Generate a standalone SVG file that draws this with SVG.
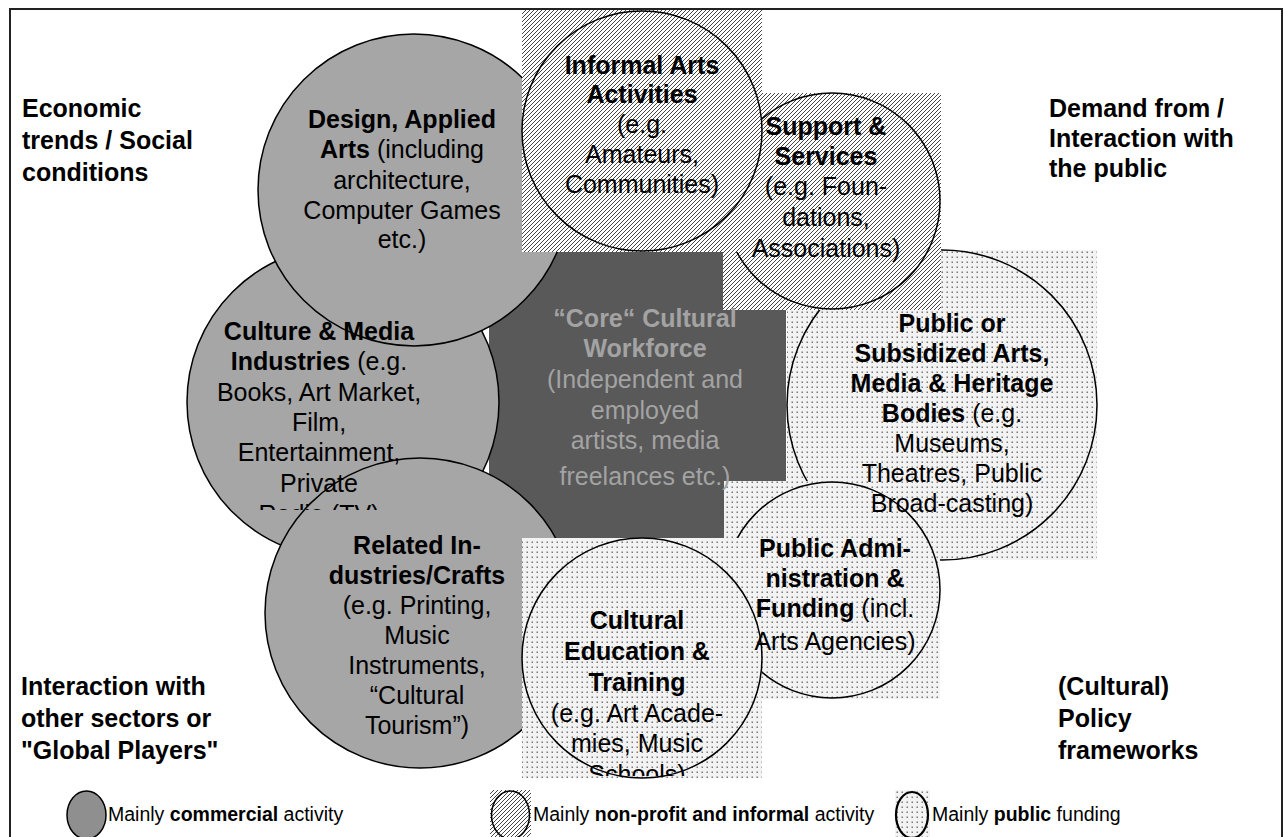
<svg xmlns="http://www.w3.org/2000/svg" width="1284" height="837" viewBox="0 0 1284 837">
<defs>
<pattern id="hatch" width="4" height="4" patternUnits="userSpaceOnUse">
<rect width="4" height="4" fill="#ffffff"/>
<path d="M-1,1 l2,-2 M0,4 l4,-4 M3,5 l2,-2" stroke="#3c3c3c" stroke-width="0.95"/>
</pattern>
<pattern id="dots" width="5" height="5" patternUnits="userSpaceOnUse">
<rect width="5" height="5" fill="#f3f3f3"/>
<rect x="1.5" y="1.5" width="1.5" height="1.5" fill="#7a7a7a"/>
</pattern>
<clipPath id="clipCulture"><rect x="150" y="0" width="400" height="510"/></clipPath>
<clipPath id="clipEdu"><rect x="500" y="0" width="300" height="776"/></clipPath>
<style>
.ring{stroke:#000;stroke-width:1.5}
.com{fill:#a6a6a6}
.t{font-family:"Liberation Sans",Arial,sans-serif;font-size:25px;fill:#000;text-anchor:middle}
.l{font-family:"Liberation Sans",Arial,sans-serif;font-size:25px;font-weight:bold;fill:#000}
.b{font-weight:bold}
.core{fill:#a3a3a3}
.lg{font-family:"Liberation Sans",Arial,sans-serif;font-size:19.5px;fill:#000}
</style>
</defs>
<rect x="10" y="9" width="1272" height="840" fill="#fff" stroke="#222" stroke-width="2"/>

<g id="core-shape"><rect x="489" y="252" width="297" height="286" fill="#595959"/></g>
<g id="culture-shape"><circle class="ring com" cx="343" cy="402" r="156"/></g>
<g id="design-shape"><circle class="ring com" cx="414" cy="190" r="156"/></g>
<g id="related-shape"><circle class="ring com" cx="420" cy="613" r="155"/></g>
<g id="public-shape"><rect x="787" y="250" width="310" height="310" fill="url(#dots)"/><circle class="ring" cx="942" cy="405" r="155" fill="none"/></g>
<g id="support-shape"><rect x="723" y="93" width="218" height="217" fill="url(#hatch)"/><circle class="ring" cx="832" cy="201" r="108" fill="none"/></g>
<g id="informal-shape"><rect x="522" y="10" width="240" height="242" fill="url(#hatch)"/><circle class="ring" cx="642" cy="131" r="120" fill="none"/></g>
<g id="admin-shape"><rect x="724" y="481" width="216" height="218" fill="url(#dots)"/><circle class="ring" cx="832" cy="590" r="108" fill="none"/></g>
<g id="education-shape"><rect x="522" y="538" width="240" height="240" fill="url(#dots)"/><circle class="ring" cx="642" cy="658" r="120" fill="none"/></g>

<g id="connectors"></g>

<g id="design">
<text class="t" x="402" y="128"><tspan class="b">Design, Applied</tspan></text>
<text class="t" x="402" y="158"><tspan class="b">Arts</tspan> (including</text>
<text class="t" x="402" y="189">architecture,</text>
<text class="t" x="402" y="219">Computer Games</text>
<text class="t" x="402" y="248">etc.)</text>
</g>
<g id="culture">
<text class="t" x="319" y="340"><tspan class="b">Culture &amp; Media</tspan></text>
<text class="t" x="319" y="370"><tspan class="b">Industries</tspan> (e.g.</text>
<text class="t" x="319" y="401">Books, Art Market,</text>
<text class="t" x="319" y="431">Film,</text>
<text class="t" x="319" y="461">Entertainment,</text>
<text class="t" x="319" y="492">Private</text>
<text class="t" x="319" y="523" clip-path="url(#clipCulture)">Radio (TV)</text>
</g>
<g id="related">
<text class="t b" x="417" y="554">Related In-</text>
<text class="t b" x="417" y="584">dustries/Crafts</text>
<text class="t" x="417" y="614">(e.g. Printing,</text>
<text class="t" x="417" y="644">Music</text>
<text class="t" x="417" y="674">Instruments,</text>
<text class="t" x="417" y="704">“Cultural</text>
<text class="t" x="417" y="734">Tourism”)</text>
</g>
<g id="informal">
<text class="t b" x="642" y="74">Informal Arts</text>
<text class="t b" x="642" y="103">Activities</text>
<text class="t" x="642" y="133">(e.g.</text>
<text class="t" x="642" y="163">Amateurs,</text>
<text class="t" x="642" y="193">Communities)</text>
</g>
<g id="support">
<text class="t b" x="826" y="135">Support &amp;</text>
<text class="t b" x="826" y="165">Services</text>
<text class="t" x="826" y="195">(e.g. Foun-</text>
<text class="t" x="826" y="226">dations,</text>
<text class="t" x="826" y="257">Associations)</text>
</g>
<g id="core">
<text class="t b core" x="645" y="327">“Core“ Cultural</text>
<text class="t b core" x="645" y="357">Workforce</text>
<text class="t core" x="645" y="388">(Independent and</text>
<text class="t core" x="645" y="419">employed</text>
<text class="t core" x="645" y="449">artists, media</text>
<text class="t core" x="645" y="485">freelances etc.)</text>
</g>
<g id="public">
<text class="t b" x="952" y="332">Public or</text>
<text class="t b" x="952" y="362">Subsidized Arts,</text>
<text class="t b" x="952" y="392">Media &amp; Heritage</text>
<text class="t" x="952" y="422"><tspan class="b">Bodies</tspan> (e.g.</text>
<text class="t" x="952" y="452">Museums,</text>
<text class="t" x="952" y="482">Theatres, Public</text>
<text class="t" x="952" y="512">Broad-casting)</text>
</g>
<g id="admin">
<text class="t b" x="835" y="557">Public Admi-</text>
<text class="t b" x="835" y="587">nistration &amp;</text>
<text class="t" x="835" y="617"><tspan class="b">Funding</tspan> (incl.</text>
<text class="t" x="835" y="650">Arts Agencies)</text>
</g>
<g id="education">
<text class="t b" x="637" y="629">Cultural</text>
<text class="t b" x="637" y="660">Education &amp;</text>
<text class="t b" x="637" y="691">Training</text>
<text class="t" x="637" y="722">(e.g. Art Acade-</text>
<text class="t" x="637" y="752">mies, Music</text>
<text class="t" x="637" y="783" clip-path="url(#clipEdu)">Schools)</text>
</g>

<g id="label-economic">
<text class="l" x="22" y="117">Economic</text>
<text class="l" x="22" y="149">trends / Social</text>
<text class="l" x="22" y="181">conditions</text>
</g>
<g id="label-demand">
<text class="l" x="1049" y="117">Demand from /</text>
<text class="l" x="1049" y="147">Interaction with</text>
<text class="l" x="1049" y="177">the public</text>
</g>
<g id="label-interaction">
<text class="l" x="21" y="695">Interaction with</text>
<text class="l" x="21" y="727">other sectors or</text>
<text class="l" x="21" y="759">"Global Players"</text>
</g>
<g id="label-policy">
<text class="l" x="1058" y="695">(Cultural)</text>
<text class="l" x="1058" y="727">Policy</text>
<text class="l" x="1058" y="759">frameworks</text>
</g>

<g id="legend">
<ellipse cx="86.5" cy="815" rx="19.5" ry="24" fill="#8f8f8f" stroke="#000" stroke-width="1.5"/>
<text class="lg" x="108" y="821">Mainly <tspan font-weight="bold">commercial</tspan> activity</text>
<rect x="490" y="790" width="41" height="47" fill="url(#hatch)"/>
<ellipse cx="510.5" cy="815" rx="19" ry="24" fill="none" stroke="#000" stroke-width="1.5"/>
<text class="lg" x="533" y="821">Mainly <tspan font-weight="bold">non-profit and informal</tspan> activity</text>
<rect x="895" y="790" width="35" height="47" fill="url(#dots)"/>
<ellipse cx="912" cy="815" rx="16" ry="23" fill="none" stroke="#000" stroke-width="2.2"/>
<text class="lg" x="932" y="821">Mainly <tspan font-weight="bold">public</tspan> funding</text>
</g>
</svg>
